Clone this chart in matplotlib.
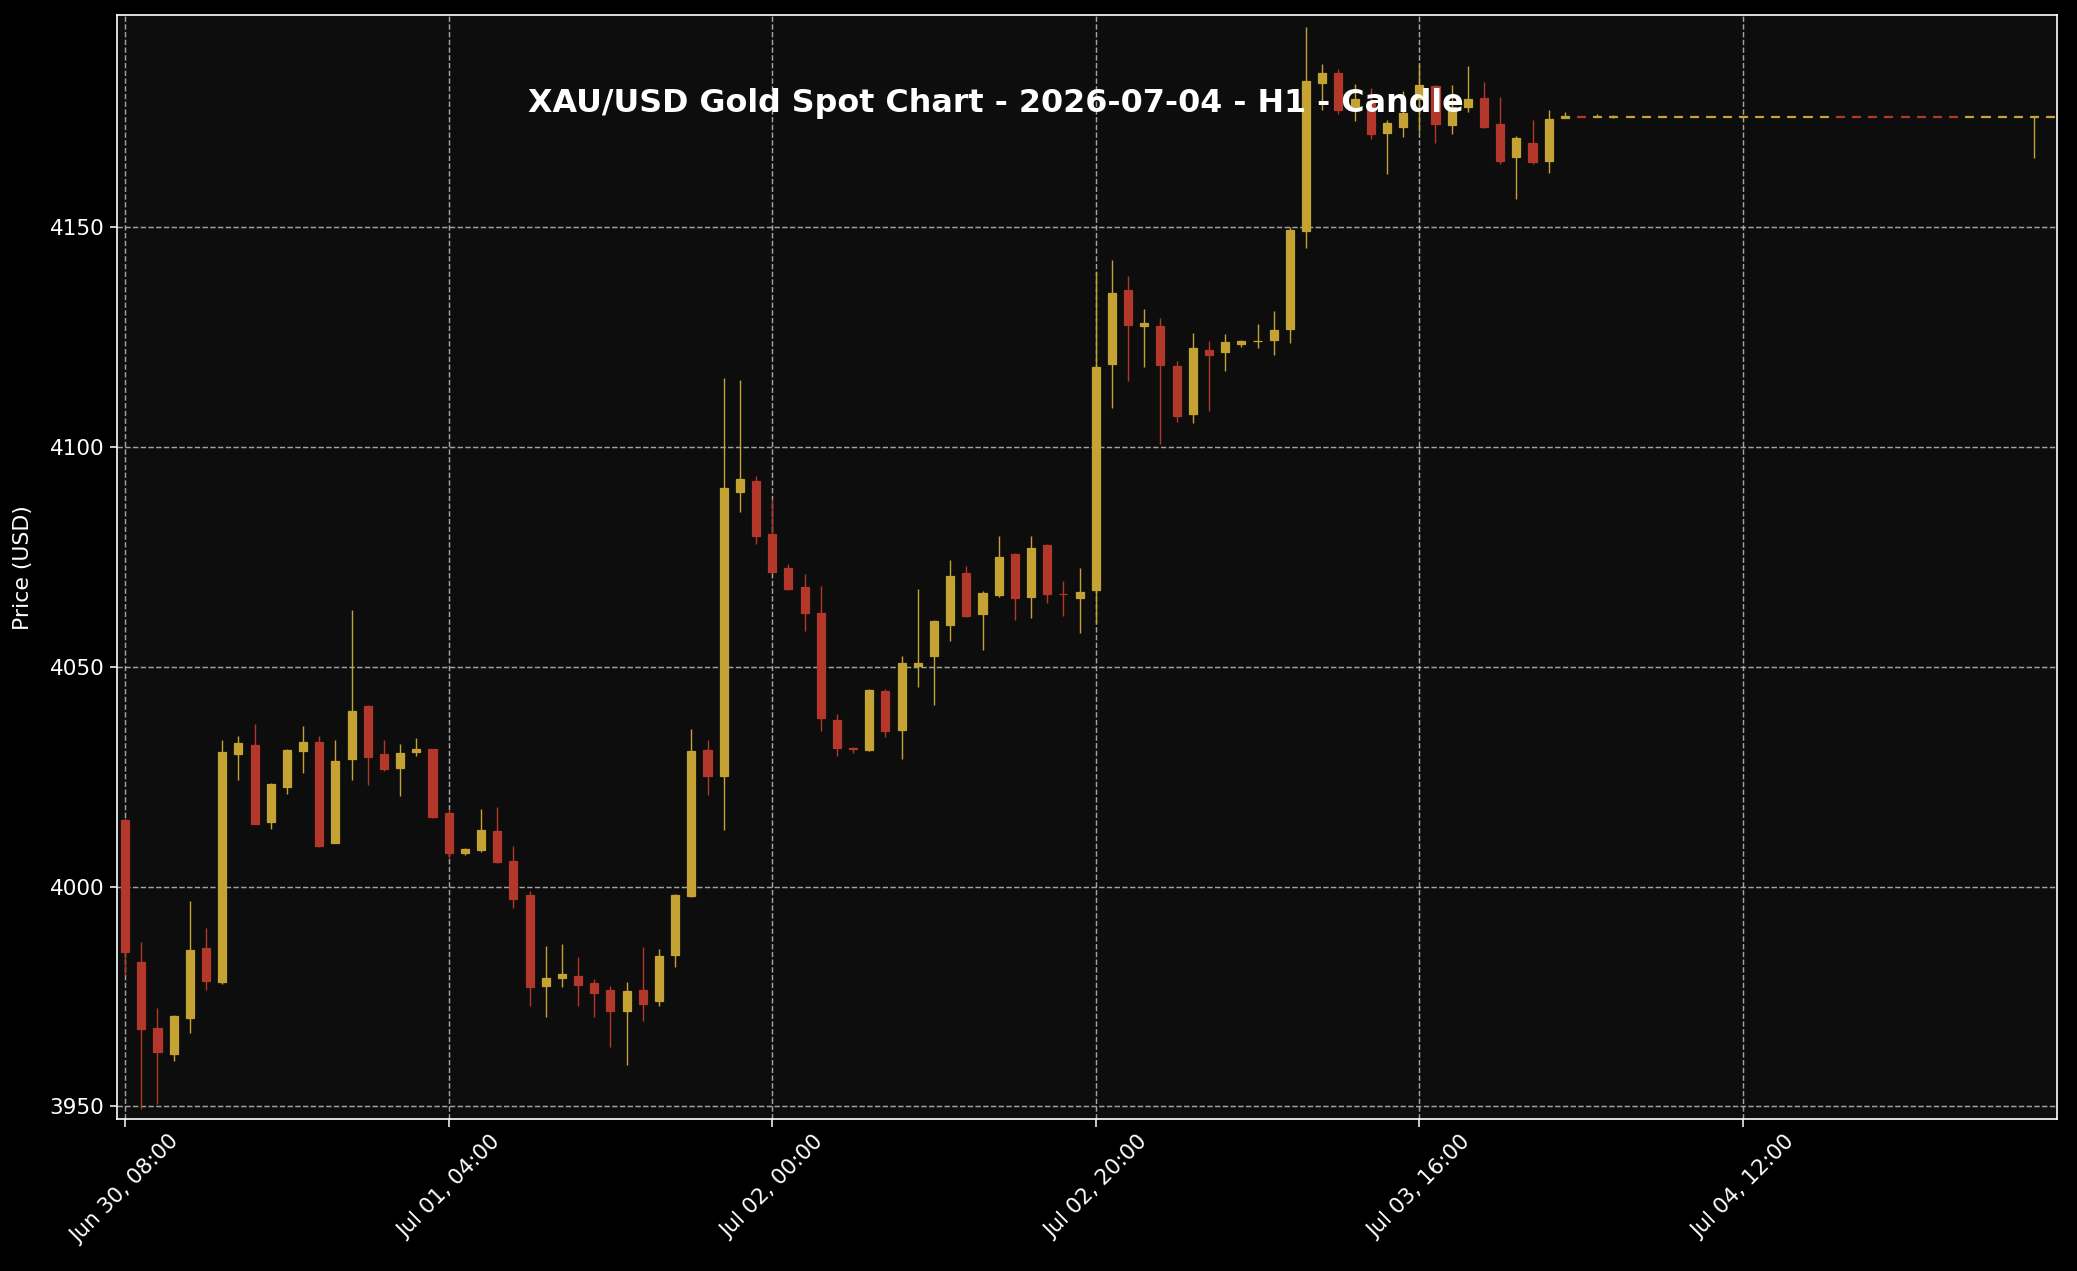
import numpy as np
import matplotlib
matplotlib.use("Agg")
import matplotlib.pyplot as plt

# hourly XAU/USD candles, index 0 = Jun 30 08:00
opens = [4015.2, 3982.9, 3967.9, 3962.0, 3970.2, 3986.0, 3978.4, 4030.2, 4032.2, 4014.7,
         4022.7, 4030.7, 4032.9, 4010.0, 4028.9, 4041.1, 4030.2, 4027.0, 4030.5, 4031.2,
         4016.7, 4007.6, 4008.3, 4012.7, 4005.8, 3998.1, 3977.3, 3979.3, 3979.7, 3978.0,
         3976.5, 3971.6, 3976.5, 3973.9, 3984.4, 3997.8, 4031.1, 4025.2, 4089.7, 4092.2,
         4080.1, 4072.5, 4068.0, 4062.1, 4037.8, 4031.5, 4031.0, 4044.4, 4035.5, 4050.2,
         4052.3, 4059.5, 4071.3, 4062.0, 4066.3, 4075.6, 4065.9, 4077.6, 4066.6, 4065.5,
         4067.5, 4118.7, 4135.5, 4127.3, 4127.3, 4118.4, 4107.3, 4122.0, 4121.4, 4123.4,
         4123.9, 4124.2, 4126.7, 4149.1, 4182.6, 4185.0, 4176.7, 4178.6, 4171.2, 4172.7,
         4179.0, 4182.0, 4173.0, 4177.3, 4179.2, 4173.3, 4165.8, 4169.0, 4164.8, 4174.8,
         4175.1, 4175.0, 4175.0, 4175.0, 4175.0, 4175.0, 4175.0, 4175.0, 4175.0, 4175.0,
         4175.0, 4175.0, 4175.0, 4175.0, 4175.0, 4175.0, 4175.05, 4175.05, 4175.05, 4175.05,
         4175.05, 4175.05, 4175.05, 4175.05, 4175.0, 4175.0, 4175.0, 4175.0, 4175.0, 4175.0]
highs = [4015.5, 3987.3, 3972.4, 3970.8, 3996.8, 3990.5, 4033.2, 4034.1, 4036.9, 4023.5,
         4031.3, 4036.4, 4034.3, 4033.2, 4062.8, 4041.3, 4033.4, 4032.4, 4033.7, 4031.3,
         4017.5, 4008.8, 4017.6, 4018.0, 4009.1, 3999.0, 3986.4, 3987.0, 3984.0, 3979.0,
         3977.5, 3978.4, 3986.2, 3985.8, 3998.3, 4035.9, 4033.4, 4115.5, 4115.1, 4093.4,
         4088.0, 4073.3, 4071.0, 4068.3, 4039.3, 4031.8, 4044.9, 4044.9, 4052.3, 4067.6,
         4060.6, 4074.2, 4072.8, 4067.2, 4079.6, 4075.8, 4079.6, 4077.8, 4069.4, 4072.4,
         4139.6, 4142.4, 4138.7, 4131.3, 4129.2, 4119.4, 4125.8, 4123.9, 4125.5, 4124.3,
         4127.8, 4130.8, 4149.8, 4195.3, 4187.0, 4185.8, 4182.4, 4181.4, 4174.2, 4180.8,
         4187.0, 4182.3, 4182.1, 4186.4, 4182.8, 4179.4, 4170.6, 4174.2, 4176.5, 4176.0,
         4175.1, 4175.7, 4175.4, 4175.1, 4175.1, 4175.1, 4175.1, 4175.1, 4175.1, 4175.1,
         4175.1, 4175.1, 4175.1, 4175.1, 4175.1, 4175.1, 4175.05, 4175.05, 4175.05, 4175.05,
         4175.05, 4175.05, 4175.05, 4175.05, 4175.1, 4175.1, 4175.1, 4175.1, 4175.1, 4175.1]
lows = [3980.0, 3949.4, 3950.6, 3960.3, 3966.7, 3976.5, 3977.9, 4024.2, 4014.1, 4013.0,
        4021.0, 4025.8, 4009.0, 4009.8, 4024.2, 4023.0, 4026.2, 4020.5, 4029.7, 4015.5,
        4006.5, 4007.2, 4007.8, 4005.4, 3995.1, 3972.9, 3970.3, 3977.1, 3972.9, 3970.3,
        3963.6, 3959.5, 3969.5, 3972.9, 3981.8, 3997.6, 4020.7, 4012.8, 4085.1, 4077.9,
        4071.3, 4067.4, 4058.0, 4035.3, 4029.7, 4030.4, 4030.8, 4033.9, 4028.9, 4045.3,
        4041.3, 4055.7, 4061.2, 4053.8, 4065.7, 4060.6, 4061.0, 4064.4, 4061.5, 4057.6,
        4059.8, 4108.8, 4114.9, 4118.1, 4100.5, 4105.6, 4105.4, 4108.2, 4117.2, 4122.6,
        4122.4, 4120.8, 4123.6, 4145.2, 4176.5, 4175.6, 4173.9, 4169.9, 4162.0, 4170.3,
        4171.4, 4169.0, 4171.0, 4176.1, 4172.4, 4164.2, 4156.3, 4164.2, 4162.2, 4174.8,
        4175.0, 4175.0, 4174.7, 4175.0, 4175.0, 4175.0, 4175.0, 4175.0, 4175.0, 4175.0,
        4175.0, 4175.0, 4175.0, 4175.0, 4175.0, 4175.0, 4175.0, 4175.0, 4175.0, 4175.0,
        4175.0, 4175.0, 4175.0, 4175.0, 4175.0, 4175.0, 4175.0, 4175.0, 4165.6, 4175.0]
closes = [3985.2, 3967.5, 3962.3, 3970.6, 3985.6, 3978.6, 4030.6, 4032.7, 4014.3, 4023.3,
          4031.1, 4032.9, 4009.3, 4028.6, 4039.9, 4029.5, 4026.6, 4030.4, 4031.2, 4015.9,
          4007.6, 4008.5, 4012.9, 4005.6, 3997.2, 3977.1, 3979.2, 3980.2, 3977.7, 3975.7,
          3971.6, 3976.3, 3973.2, 3984.1, 3998.1, 4030.7, 4025.2, 4090.6, 4092.6, 4079.6,
          4071.5, 4067.6, 4062.2, 4038.3, 4031.4, 4031.2, 4044.7, 4035.4, 4050.7, 4050.9,
          4060.4, 4070.6, 4061.6, 4066.8, 4074.9, 4065.5, 4077.0, 4066.6, 4066.4, 4067.0,
          4118.0, 4135.0, 4127.7, 4128.2, 4118.5, 4106.9, 4122.5, 4120.8, 4123.8, 4124.1,
          4124.1, 4126.6, 4149.3, 4183.2, 4185.0, 4176.4, 4178.9, 4171.1, 4173.6, 4175.9,
          4182.3, 4173.3, 4177.1, 4178.9, 4172.6, 4164.8, 4170.2, 4164.6, 4174.5, 4175.2,
          4175.0, 4175.1, 4175.1, 4175.05, 4175.05, 4175.05, 4175.05, 4175.05, 4175.05, 4175.05,
          4175.05, 4175.05, 4175.05, 4175.05, 4175.05, 4175.05, 4175.0, 4175.0, 4175.0, 4175.0,
          4175.0, 4175.0, 4175.0, 4175.0, 4175.05, 4175.05, 4175.05, 4175.05, 4175.05, 4175.05]

tick_pos = [0, 20, 40, 60, 80, 100]
tick_labels = ["Jun 30, 08:00", "Jul 01, 04:00", "Jul 02, 00:00",
               "Jul 02, 20:00", "Jul 03, 16:00", "Jul 04, 12:00"]
y_ticks = [3950, 4000, 4050, 4100, 4150]

up_color = "#c4a234"
down_color = "#b3372b"

opens = np.array(opens)
closes = np.array(closes)
x = np.arange(len(opens))
up = closes >= opens
colors = np.where(up, up_color, down_color)

fig = plt.figure(figsize=(20.77, 12.71), dpi=100, facecolor="black")
ax = fig.add_axes([0.0562, 0.1194, 0.934, 0.8688])
ax.set_facecolor("#0d0d0d")

ax.vlines(x, lows, highs, colors=colors, linewidth=1.0, zorder=2)
ax.bar(x, closes - opens, bottom=opens, width=0.5, color=colors,
       edgecolor=colors, linewidth=0.9, zorder=3)

ax.set_xlim(-0.52, 119.4)
ax.set_ylim(3947.1, 4198.1)
ax.set_xticks(tick_pos)
ax.set_xticklabels(tick_labels, rotation=45, ha="center")
ax.set_yticks(y_ticks)

ax.set_axisbelow(True)
ax.grid(True, linestyle="--", color="#bcbcbc", linewidth=1.05, alpha=0.85)

for s in ax.spines.values():
    s.set_color("white")
    s.set_linewidth(1.2)
ax.tick_params(colors="white", labelsize=15.5, length=5.4, width=1.1)

ax.set_ylabel("Price (USD)", color="white", fontsize=15.8)
ax.yaxis.set_label_coords(-0.043, 0.5)

fig.text(995.7 / 2077, 1 - 111.7 / 1271,
         "XAU/USD Gold Spot Chart - 2026-07-04 - H1 - Candle",
         ha="center", va="baseline", fontsize=22.9, fontweight="bold", color="white")

fig.savefig("out.png", dpi=100, facecolor="black")
